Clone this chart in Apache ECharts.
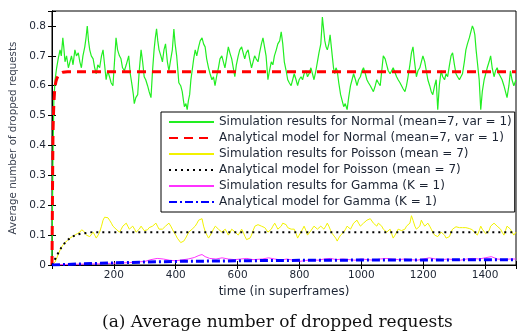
<!DOCTYPE html>
<html><head><meta charset="utf-8">
<script src="https://cdn.jsdelivr.net/npm/echarts@6/dist/echarts.min.js"></script>
<style>html,body{margin:0;padding:0;background:#fff}#c{width:519px;height:331px}</style>
</head><body><div id="c"></div>
<script>
// ---- data ----
var seriesNames = [
  'Simulation results for Normal (mean=7, var = 1)',
  'Analytical model for Normal (mean=7, var = 1)',
  'Simulation results for Poisson (mean = 7)',
  'Analytical model for Poisson (mean = 7)',
  'Simulation results for Gamma (K = 1)',
  'Analytical model for Gamma (K = 1)'
];
var xTicks = [200, 400, 600, 800, 1000, 1200, 1400];
var yTicks = [0, 0.1, 0.2, 0.3, 0.4, 0.5, 0.6, 0.7, 0.8];

var normalSimT = [0,3,6,10,15,20,26,30,35,38,42,47,53,58,63,68,74,79,85,90,95,100,106,110,114,118,122,127,133,138,143,148,154,160,165,170,175,180,186,191,197,202,207,212,218,223,228,234,240,248,253,259,263,266,271,277,282,288,293,298,303,309,314,320,325,330,334,338,342,346,352,357,362,367,373,378,384,389,394,398,403,407,410,416,421,425,428,433,437,441,445,449,453,458,463,468,474,479,485,490,495,500,506,511,517,522,527,532,538,543,549,554,559,564,570,575,581,586,591,596,602,607,613,618,623,628,634,639,645,650,655,660,666,671,677,682,687,692,698,703,709,714,719,725,730,736,741,746,751,757,762,767,773,778,783,789,794,799,805,810,815,821,826,831,837,842,847,853,858,863,869,872,874,878,882,886,890,895,899,903,906,910,914,918,922,927,933,938,943,948,954,959,965,970,975,981,986,991,997,1002,1007,1013,1018,1023,1029,1034,1039,1045,1050,1055,1061,1066,1071,1077,1082,1087,1093,1098,1103,1109,1114,1119,1125,1130,1135,1141,1146,1151,1157,1162,1167,1172,1178,1183,1189,1194,1199,1205,1210,1215,1221,1226,1231,1237,1242,1247,1252,1258,1263,1269,1274,1279,1285,1290,1295,1301,1306,1311,1317,1322,1327,1333,1338,1343,1349,1354,1359,1363,1367,1371,1375,1381,1386,1391,1397,1402,1407,1413,1418,1423,1429,1434,1439,1445,1450,1455,1461,1466,1471,1477,1482,1487,1493,1500];
var normalSimV = [0,0.35,0.55,0.62,0.66,0.69,0.72,0.70,0.76,0.73,0.68,0.70,0.66,0.68,0.70,0.67,0.72,0.70,0.71,0.68,0.66,0.70,0.73,0.76,0.80,0.75,0.72,0.70,0.69,0.66,0.64,0.67,0.66,0.70,0.72,0.67,0.62,0.65,0.63,0.61,0.60,0.68,0.76,0.72,0.70,0.69,0.66,0.65,0.67,0.70,0.64,0.60,0.57,0.54,0.56,0.57,0.65,0.72,0.68,0.63,0.62,0.60,0.58,0.56,0.65,0.72,0.76,0.79,0.75,0.72,0.70,0.68,0.72,0.74,0.68,0.65,0.69,0.72,0.79,0.74,0.70,0.65,0.61,0.60,0.58,0.55,0.53,0.54,0.52,0.55,0.57,0.62,0.65,0.69,0.72,0.70,0.73,0.75,0.76,0.74,0.73,0.69,0.66,0.64,0.62,0.63,0.60,0.63,0.66,0.69,0.70,0.68,0.66,0.69,0.73,0.71,0.69,0.66,0.63,0.67,0.70,0.72,0.73,0.71,0.69,0.71,0.72,0.69,0.66,0.68,0.70,0.69,0.68,0.71,0.74,0.76,0.76,0.70,0.62,0.65,0.68,0.67,0.70,0.72,0.74,0.75,0.78,0.74,0.68,0.65,0.62,0.61,0.60,0.62,0.64,0.62,0.60,0.62,0.63,0.62,0.64,0.65,0.63,0.64,0.66,0.64,0.62,0.65,0.68,0.71,0.74,0.79,0.83,0.79,0.75,0.73,0.72,0.74,0.77,0.73,0.70,0.66,0.64,0.66,0.65,0.61,0.57,0.55,0.53,0.54,0.52,0.56,0.60,0.62,0.64,0.62,0.60,0.62,0.63,0.65,0.66,0.64,0.62,0.61,0.60,0.59,0.58,0.60,0.62,0.61,0.60,0.65,0.70,0.69,0.67,0.65,0.64,0.64,0.66,0.66,0.63,0.62,0.61,0.60,0.59,0.58,0.60,0.63,0.67,0.71,0.73,0.68,0.63,0.65,0.66,0.68,0.70,0.68,0.65,0.62,0.60,0.58,0.57,0.60,0.62,0.52,0.60,0.65,0.63,0.62,0.64,0.63,0.67,0.70,0.71,0.67,0.64,0.63,0.62,0.63,0.64,0.68,0.72,0.74,0.76,0.78,0.80,0.79,0.77,0.72,0.68,0.62,0.52,0.58,0.62,0.64,0.66,0.68,0.70,0.66,0.63,0.65,0.66,0.64,0.63,0.62,0.60,0.58,0.56,0.60,0.65,0.62,0.60,0.62];

var normalAnaT = [0,1,2,3,4,6,8,10,13,16,20,25,30,35,40,50,100,1500];
var normalAnaV = [0,0.15,0.3,0.42,0.48,0.54,0.575,0.6,0.615,0.625,0.633,0.64,0.643,0.645,0.646,0.647,0.647,0.647];

var poissonSimT = [0,10,18,26,34,42,50,58,66,74,82,90,96,101,106,111,117,122,128,133,138,143,149,154,160,165,170,175,181,186,192,197,202,207,213,218,224,229,235,240,245,250,256,261,267,272,277,282,288,293,298,304,309,314,320,325,330,336,341,346,352,357,362,367,373,378,384,389,394,400,405,410,416,421,426,432,437,442,448,453,458,463,469,474,479,485,490,496,501,506,512,517,522,528,533,538,544,549,554,560,565,570,576,581,586,592,597,602,608,613,618,624,629,634,640,645,650,656,661,666,672,677,682,688,693,698,704,709,714,720,725,730,736,741,746,751,757,762,767,773,778,783,789,794,799,805,810,815,821,826,831,837,842,847,853,858,863,869,874,879,885,890,895,901,906,911,917,922,927,933,938,943,949,954,959,965,970,975,981,986,991,997,1002,1007,1013,1018,1023,1029,1034,1039,1045,1050,1055,1061,1066,1071,1077,1082,1087,1093,1098,1103,1109,1114,1119,1125,1130,1135,1141,1146,1151,1157,1162,1167,1173,1178,1183,1189,1194,1199,1205,1210,1215,1221,1226,1231,1237,1242,1247,1253,1258,1263,1269,1274,1279,1285,1290,1295,1301,1306,1311,1317,1322,1327,1333,1338,1343,1349,1354,1359,1365,1370,1375,1381,1386,1391,1397,1402,1407,1413,1418,1423,1429,1434,1439,1445,1450,1455,1461,1466,1471,1477,1482,1487,1493,1500];
var poissonSimV = [0,0.01,0.03,0.05,0.065,0.075,0.082,0.09,0.095,0.10,0.105,0.11,0.118,0.12,0.11,0.10,0.105,0.095,0.10,0.11,0.10,0.09,0.10,0.11,0.13,0.15,0.16,0.165,0.158,0.15,0.14,0.13,0.125,0.12,0.115,0.11,0.12,0.13,0.135,0.14,0.13,0.12,0.125,0.13,0.12,0.11,0.115,0.12,0.13,0.125,0.115,0.11,0.118,0.125,0.12,0.13,0.135,0.14,0.13,0.12,0.115,0.12,0.125,0.13,0.135,0.14,0.13,0.12,0.11,0.10,0.09,0.085,0.075,0.07,0.08,0.09,0.10,0.11,0.115,0.12,0.125,0.13,0.14,0.15,0.155,0.155,0.13,0.11,0.10,0.09,0.10,0.11,0.12,0.13,0.125,0.12,0.115,0.11,0.115,0.12,0.11,0.10,0.11,0.12,0.115,0.11,0.105,0.10,0.11,0.12,0.11,0.095,0.085,0.08,0.09,0.10,0.115,0.13,0.135,0.135,0.13,0.13,0.128,0.125,0.12,0.11,0.115,0.12,0.13,0.14,0.13,0.12,0.125,0.13,0.14,0.145,0.135,0.125,0.12,0.12,0.125,0.12,0.105,0.09,0.10,0.11,0.12,0.13,0.115,0.10,0.105,0.115,0.12,0.13,0.125,0.12,0.125,0.13,0.125,0.12,0.13,0.14,0.13,0.115,0.105,0.10,0.09,0.08,0.09,0.10,0.105,0.11,0.12,0.13,0.125,0.12,0.13,0.14,0.145,0.15,0.14,0.13,0.135,0.14,0.145,0.15,0.155,0.155,0.15,0.14,0.135,0.13,0.14,0.145,0.13,0.12,0.115,0.11,0.115,0.12,0.105,0.09,0.10,0.11,0.12,0.125,0.115,0.11,0.12,0.13,0.135,0.14,0.165,0.15,0.13,0.12,0.115,0.13,0.15,0.14,0.13,0.135,0.14,0.13,0.12,0.11,0.10,0.098,0.095,0.10,0.11,0.105,0.10,0.09,0.085,0.095,0.11,0.12,0.125,0.128,0.13,0.125,0.12,0.125,0.13,0.125,0.12,0.122,0.125,0.118,0.11,0.105,0.10,0.115,0.13,0.12,0.115,0.105,0.10,0.115,0.13,0.135,0.14,0.135,0.13,0.125,0.12,0.11,0.10,0.115,0.13,0.125,0.12,0.11,0.10,0.11];

var poissonAnaT = [0,10,20,30,40,50,60,70,80,90,100,115,130,200,1500];
var poissonAnaV = [0,0.02,0.04,0.058,0.072,0.083,0.091,0.097,0.101,0.104,0.106,0.108,0.11,0.11,0.11];

var gammaSimT = [0,50,100,150,200,250,300,320,340,360,380,400,420,440,460,475,485,495,510,530,550,570,590,610,630,650,680,700,720,740,760,780,800,820,840,860,880,900,920,940,960,980,1000,1020,1040,1060,1080,1100,1120,1140,1160,1180,1200,1220,1240,1260,1280,1300,1320,1340,1360,1380,1400,1420,1440,1460,1480,1500];
var gammaSimV = [0,0.002,0.003,0.004,0.006,0.008,0.012,0.018,0.022,0.02,0.016,0.014,0.017,0.02,0.025,0.032,0.035,0.028,0.022,0.02,0.024,0.02,0.018,0.02,0.022,0.018,0.02,0.024,0.02,0.017,0.02,0.016,0.012,0.015,0.018,0.016,0.02,0.022,0.018,0.02,0.018,0.016,0.02,0.018,0.016,0.02,0.022,0.02,0.018,0.02,0.018,0.016,0.02,0.024,0.02,0.018,0.02,0.018,0.016,0.02,0.022,0.02,0.024,0.028,0.02,0.018,0.02,0.02];

var gammaAnaT = [0,50,100,200,300,400,500,600,700,800,900,1000,1200,1500];
var gammaAnaV = [0,0.002,0.004,0.007,0.01,0.012,0.013,0.014,0.015,0.0155,0.016,0.0165,0.017,0.0175];

function pairs(t, v) { return t.map(function (x, i) { return [x, v[i]]; }); }

var chart = echarts.init(document.getElementById('c'), null, {renderer: 'canvas'});
var labelColor = '#1c2433';
var font = 'DejaVu Sans, Verdana, sans-serif';

function mkSeries(i, data, color, width, type, z) {
  return {
    name: seriesNames[i], type: 'line', data: data, symbol: 'none', showSymbol: false,
    lineStyle: {color: color, width: width, type: type}, itemStyle: {color: color},
    z: z, animation: false, silent: true
  };
}

chart.setOption({
  animation: false,
  backgroundColor: '#fff',
  grid: {left: 52, right: -1, top: 11, bottom: 66, show: true, borderColor: '#000', borderWidth: 1},
  title: {
    text: '(a) Average number of dropped requests',
    left: 102, top: 314, padding: 0,
    textStyle: {fontFamily: 'DejaVu Serif, serif', fontWeight: 'normal', fontSize: 17, color: '#111'}
  },
  legend: {
    orient: 'vertical', left: 161, top: 112,
    data: seriesNames,
    itemWidth: 45, itemHeight: 10, itemGap: 2,
    padding: [3, 3, 3, 7],
    backgroundColor: '#fff', borderColor: '#000', borderWidth: 1,
    itemStyle: {opacity: 0},
    textStyle: {fontFamily: font, fontSize: 12, lineHeight: 14, color: labelColor},
    selectedMode: false, z: 10
  },
  xAxis: [{
    type: 'value', min: 0, max: 1500, interval: 200,
    name: 'time (in superframes)', nameLocation: 'middle', nameGap: 20,
    nameTextStyle: {fontFamily: font, fontSize: 12, color: labelColor},
    axisLine: {lineStyle: {color: '#000', width: 1}},
    axisTick: {inside: true, length: 4, lineStyle: {color: '#000'}},
    axisLabel: {fontFamily: font, fontSize: 10.5, color: labelColor, margin: 5,
      formatter: function (v) { return xTicks.indexOf(v) >= 0 ? String(v) : ''; }},
    splitLine: {show: false}
  }, {
    type: 'value', min: 0, max: 1500, interval: 200, position: 'top',
    axisLine: {lineStyle: {color: '#000'}},
    axisTick: {inside: true, length: 4, lineStyle: {color: '#000'}},
    axisLabel: {show: false}, splitLine: {show: false}
  }],
  yAxis: [{
    type: 'value', min: 0, max: 0.85, interval: 0.1,
    name: 'Average number of dropped requests', nameLocation: 'middle', nameGap: 33,
    nameTextStyle: {fontFamily: font, fontSize: 10.3, color: '#3a4150'},
    axisLine: {lineStyle: {color: '#000', width: 1}},
    axisTick: {inside: true, length: 4, lineStyle: {color: '#000'}},
    axisLabel: {fontFamily: font, fontSize: 10.5, color: labelColor, margin: 6,
      formatter: function (v) {
        for (var i = 0; i < yTicks.length; i++) if (Math.abs(yTicks[i] - v) < 1e-9) return String(yTicks[i]);
        return '';
      }},
    splitLine: {show: false}
  }, {
    type: 'value', min: 0, max: 0.85, interval: 0.1, position: 'right',
    axisLine: {lineStyle: {color: '#000'}},
    axisTick: {inside: true, length: 4, lineStyle: {color: '#000'}},
    axisLabel: {show: false}, splitLine: {show: false}
  }],
  series: [
    mkSeries(0, pairs(normalSimT, normalSimV), '#22ee22', 1.2, 'solid', 2),
    mkSeries(1, pairs(normalAnaT, normalAnaV), '#ff0000', 3, [9, 6], 3),
    mkSeries(2, pairs(poissonSimT, poissonSimV), '#f2f200', 1, 'solid', 2),
    mkSeries(3, pairs(poissonAnaT, poissonAnaV), '#000000', 2, [2, 4], 3),
    mkSeries(4, pairs(gammaSimT, gammaSimV), '#ff33ff', 1, 'solid', 2),
    mkSeries(5, pairs(gammaAnaT, gammaAnaV), '#0000ff', 3, [8, 3, 2, 3], 3)
  ]
});
</script></body></html>
